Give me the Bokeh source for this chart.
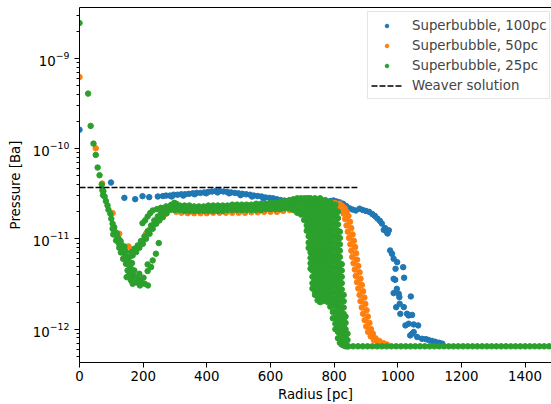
import numpy as np
from bokeh.plotting import figure
from bokeh.models import FixedTicker, LinearAxis, Legend, LegendItem
from bokeh.embed import file_html
from bokeh.resources import INLINE

BLUE = "#1f77b4"
ORANGE = "#ff7f0e"
GREEN = "#2ca02c"

# ---------------- data: radius [pc], log10 pressure [Ba] ----------------
x_ticks = [0, 200, 400, 600, 800, 1000, 1200, 1400]

# Superbubble, 100pc
blue_core_r = [0, 99]
blue_core_logp = [-9.79, -10.375]
blue_shell_r = [141, 175, 198, 219, 246, 262, 272,
                284, 296, 308, 320, 332, 344, 356, 368, 380, 392,
                404, 416, 428, 440, 452, 464, 476, 488, 500, 512,
                524, 536, 548, 560, 572, 584, 596, 608, 620, 632,
                644, 656, 668, 680, 692, 704, 716, 728, 740, 752,
                764, 776, 788,
                290, 326, 362, 398, 434, 470, 506, 542, 578, 614]
blue_shell_logp = [-10.545, -10.559, -10.526, -10.537, -10.53, -10.525, -10.52,
                   -10.52, -10.51, -10.51, -10.505, -10.505, -10.50, -10.495, -10.49, -10.49, -10.485,
                   -10.48, -10.475, -10.47, -10.47, -10.475, -10.48, -10.485, -10.49, -10.495, -10.50,
                   -10.505, -10.51, -10.52, -10.525, -10.53, -10.54, -10.545, -10.55, -10.56, -10.57,
                   -10.575, -10.58, -10.585, -10.59, -10.595, -10.60, -10.60, -10.60, -10.60, -10.595,
                   -10.59, -10.585, -10.58,
                   -10.53, -10.52, -10.505, -10.495, -10.485, -10.495, -10.515, -10.53, -10.55, -10.57]
blue_edge_r = [798, 808, 818, 828, 838, 848, 858, 868, 880, 890,
               900, 910, 920, 928, 936, 944, 950, 956, 960, 966,
               968, 972, 976, 982, 987, 998, 993, 1017, 1020, 987,
               992, 997, 987, 1003, 1005, 1041, 995, 1006, 1019, 1008,
               1029, 1034, 1045, 1024, 1034, 1050, 1064, 1039, 1045, 1050,
               1061, 1076, 1088, 1097, 1108, 1118, 1130, 1140]
blue_edge_logp = [-10.574, -10.585, -10.595, -10.61, -10.635, -10.66, -10.675, -10.685, -10.665, -10.68,
                  -10.69, -10.70, -10.725, -10.745, -10.775, -10.80, -10.83, -10.90, -10.88, -10.925,
                  -10.94, -10.905, -11.128, -11.165, -11.22, -11.257, -11.331, -11.313, -11.43, -11.442,
                  -11.453, -11.553, -11.60, -11.608, -11.645, -11.637, -11.756, -11.718, -11.755, -11.83,
                  -11.829, -11.848, -11.842, -11.958, -11.94, -11.947, -11.958, -12.069, -12.05, -12.032,
                  -12.087, -12.106, -12.11, -12.12, -12.13, -12.14, -12.15, -12.16]

# Superbubble, 50pc
orange_core_r = [0, 51, 71]
orange_core_logp = [-9.206, -9.996, -10.386]
orange_dip_r = [104, 125, 154, 165, 183, 209, 220, 246, 272, 304, 345]
orange_dip_logp = [-10.714, -10.943, -11.083, -11.164, -11.09, -10.943, -10.899, -10.788, -10.72, -10.70, -10.69]
orange_shell_r = [320, 340, 360, 380, 400, 420, 440, 460, 480, 500,
                  520, 540, 560, 580, 600, 620, 640, 660, 680, 700,
                  720, 740, 760, 780, 795]
orange_shell_logp = [-10.71, -10.715, -10.715, -10.715, -10.715, -10.71, -10.71, -10.71, -10.71, -10.71,
                     -10.71, -10.705, -10.705, -10.70, -10.70, -10.70, -10.69, -10.68, -10.66, -10.64,
                     -10.62, -10.61, -10.60, -10.60, -10.60]
orange_edge_r = [802, 810, 818, 824, 830, 835, 839, 843, 847, 851,
                 854, 857, 861, 865, 868, 872, 876, 880, 883, 887,
                 891, 896, 901, 907, 915, 925, 937, 952,
                 817, 825, 833, 839, 845, 850, 854, 858, 862, 866,
                 869, 872, 876, 880, 883, 887, 891, 895, 898, 902,
                 906, 911, 916, 922, 930, 942, 955, 966]
orange_edge_logp = [-10.60, -10.62, -10.645, -10.68, -10.72, -10.78, -10.85, -10.92, -10.99, -11.06,
                    -11.13, -11.20, -11.27, -11.34, -11.41, -11.48, -11.55, -11.62, -11.69, -11.76,
                    -11.83, -11.90, -11.97, -12.03, -12.08, -12.12, -12.15, -12.17,
                    -10.61, -10.635, -10.66, -10.70, -10.745, -10.81, -10.88, -10.95, -11.02, -11.09,
                    -11.16, -11.23, -11.30, -11.37, -11.44, -11.51, -11.58, -11.65, -11.72, -11.79,
                    -11.86, -11.93, -12.00, -12.05, -12.10, -12.13, -12.155, -12.17]

# Superbubble, 25pc
green_core_r = [0, 27, 35, 44, 51, 57, 63, 70, 72, 74, 75, 79, 83, 88, 91, 97, 100, 104]
green_core_logp = [-8.608, -9.39, -9.748, -9.944, -10.069, -10.209, -10.294, -10.397, -10.46, -10.515,
                   -10.471, -10.53, -10.581, -10.629, -10.677, -10.722, -10.777, -10.832]
green_dip_r = [104, 110, 106, 117, 123, 115, 123, 131, 125, 136,
               130, 142, 147, 137, 152, 146, 157, 151, 163, 157,
               148, 167, 173, 184, 162, 178, 194, 205, 215, 190,
               201, 214, 225, 214, 230, 240, 249,
               109, 117, 129, 141, 144, 157, 165, 172, 188, 167, 157]
green_dip_logp = [-10.888, -10.914, -10.95, -10.965, -10.998, -11.017, -11.046, -11.061, -11.098, -11.113,
                  -11.15, -11.164, -11.201, -11.22, -11.238, -11.275, -11.297, -11.349, -11.334, -11.386,
                  -11.423, -11.386, -11.423, -11.445, -11.46, -11.482, -11.482, -11.497, -11.515, -11.515,
                  -11.43, -11.356, -11.312, -11.282, -11.238, -11.164, -11.046,
                  -10.869, -10.936, -11.024, -11.083, -11.135, -11.201, -11.268, -11.349, -11.386, -11.497, -11.43]
green_arm_r = [162, 172, 183, 193, 204, 214, 225, 235, 246, 256, 267, 277, 288, 298,
               167, 178, 188, 199, 209, 220, 230, 241, 251, 262, 274, 288, 304,
               198, 206, 214, 222, 230, 243, 256, 272, 288, 304,
               165, 176, 186, 196, 207, 217, 228, 238, 249, 259, 271, 283, 296]
green_arm_logp = [-11.146, -11.109, -11.072, -11.024, -10.973, -10.914, -10.851, -10.795, -10.751, -10.714,
                  -10.677, -10.648, -10.622, -10.60,
                  -11.183, -11.146, -11.098, -11.054, -10.998, -10.943, -10.888, -10.832, -10.795, -10.759,
                  -10.714, -10.677, -10.648,
                  -10.825, -10.795, -10.751, -10.714, -10.685, -10.67, -10.655, -10.64, -10.63, -10.611,
                  -11.165, -11.128, -11.085, -11.04, -10.986, -10.93, -10.87, -10.813, -10.773, -10.737,
                  -10.696, -10.662, -10.635]
green_band_r = [300, 315, 330, 345, 360, 375, 390, 405, 420, 435,
                450, 465, 480, 495, 510, 525, 540, 555, 570, 585,
                600, 615, 630, 645, 660]
green_band_upper_logp = [-10.62, -10.63, -10.63, -10.63, -10.64, -10.64, -10.64, -10.63, -10.63, -10.63,
                         -10.63, -10.63, -10.62, -10.62, -10.62, -10.62, -10.62, -10.61, -10.61, -10.61,
                         -10.60, -10.60, -10.59, -10.58, -10.57]
green_band_middle_logp = [-10.65, -10.655, -10.66, -10.66, -10.665, -10.665, -10.665, -10.66, -10.66, -10.66,
                          -10.66, -10.655, -10.65, -10.65, -10.65, -10.65, -10.65, -10.645, -10.645, -10.64,
                          -10.635, -10.635, -10.63, -10.62, -10.615]
green_band_lower_logp = [-10.68, -10.68, -10.69, -10.69, -10.69, -10.69, -10.69, -10.69, -10.69, -10.69,
                         -10.69, -10.68, -10.68, -10.68, -10.68, -10.68, -10.68, -10.68, -10.68, -10.67,
                         -10.67, -10.67, -10.67, -10.66, -10.66]
green_wall_r = [672, 684, 696, 706, 714, 720, 726, 732, 740, 748, 756, 764, 772, 780,
                788, 796, 804, 812, 818, 824, 830, 836, 842]
green_wall_logp = [
    [-10.56, -10.62, -10.68],
    [-10.55, -10.61, -10.67, -10.71],
    [-10.55, -10.61, -10.67, -10.73],
    [-10.55, -10.61, -10.67, -10.73, -10.79],
    [-10.55, -10.61, -10.67, -10.73, -10.79, -10.85, -10.91],
    [-10.55, -10.62, -10.69, -10.76, -10.83, -10.90, -10.97, -11.04, -11.10],
    [-10.55, -10.61, -10.67, -10.73, -10.79, -10.85, -10.91, -10.97, -11.03, -11.09, -11.15, -11.21, -11.27, -11.33],
    [-10.58, -10.65, -10.72, -10.79, -10.86, -10.93, -11.00, -11.07, -11.14, -11.21, -11.28, -11.35, -11.42, -11.49, -11.55],
    [-10.55, -10.61, -10.68, -10.75, -10.82, -10.89, -10.96, -11.03, -11.10, -11.17, -11.24, -11.31, -11.38, -11.45, -11.52, -11.58, -11.62],
    [-10.58, -10.65, -10.72, -10.79, -10.86, -10.93, -11.00, -11.07, -11.14, -11.21, -11.28, -11.35, -11.42, -11.49, -11.56, -11.63, -11.68],
    [-10.55, -10.61, -10.68, -10.75, -10.82, -10.89, -10.96, -11.03, -11.10, -11.17, -11.24, -11.31, -11.38, -11.45, -11.52, -11.59, -11.66, -11.70],
    [-10.58, -10.65, -10.72, -10.79, -10.86, -10.93, -11.00, -11.07, -11.14, -11.21, -11.28, -11.35, -11.42, -11.49, -11.56, -11.63, -11.69],
    [-10.57, -10.63, -10.70, -10.77, -10.84, -10.91, -10.98, -11.05, -11.12, -11.19, -11.26, -11.33, -11.40, -11.47, -11.54, -11.60, -11.66],
    [-10.60, -10.67, -10.74, -10.81, -10.88, -10.95, -11.02, -11.09, -11.16, -11.23, -11.30, -11.37, -11.44, -11.51, -11.58, -11.65, -11.70],
    [-10.59, -10.65, -10.72, -10.79, -10.86, -10.93, -11.00, -11.07, -11.14, -11.21, -11.28, -11.35, -11.42, -11.49, -11.56, -11.63, -11.69, -11.75],
    [-10.62, -10.69, -10.76, -10.83, -10.90, -10.97, -11.04, -11.11, -11.18, -11.25, -11.32, -11.39, -11.46, -11.53, -11.60, -11.67, -11.74, -11.81, -11.88],
    [-10.62, -10.68, -10.75, -10.82, -10.89, -10.96, -11.03, -11.10, -11.17, -11.24, -11.31, -11.38, -11.45, -11.52, -11.59, -11.66, -11.73, -11.80, -11.87, -11.94, -12.00],
    [-10.70, -10.77, -10.84, -10.91, -10.98, -11.05, -11.12, -11.19, -11.26, -11.33, -11.40, -11.47, -11.54, -11.61, -11.68, -11.75, -11.82, -11.89, -11.96, -12.03, -12.10],
    [-10.92, -10.99, -11.06, -11.13, -11.20, -11.27, -11.34, -11.41, -11.48, -11.55, -11.62, -11.69, -11.76, -11.83, -11.90, -11.97, -12.04, -12.11, -12.15],
    [-11.28, -11.35, -11.42, -11.49, -11.56, -11.63, -11.70, -11.77, -11.84, -11.91, -11.98, -12.05, -12.12, -12.17],
    [-11.62, -11.69, -11.76, -11.83, -11.90, -11.97, -12.04, -12.11, -12.18],
    [-11.86, -11.93, -12.00, -12.07, -12.14, -12.19],
    [-12.05, -12.12, -12.19],
]
green_floor_r = [845, 860, 875, 890, 905, 920, 935, 950, 965, 980,
                 995, 1010, 1025, 1040, 1055, 1070, 1085, 1100, 1115, 1130,
                 1145, 1160, 1175, 1190, 1205, 1220, 1235, 1250, 1265, 1280,
                 1295, 1310, 1325, 1340, 1355, 1370, 1385, 1400, 1415, 1430,
                 1445, 1460, 1475, 1490]
green_floor_logp = [-12.19, -12.19, -12.19, -12.19, -12.19, -12.19, -12.19, -12.19, -12.19, -12.19,
                    -12.19, -12.19, -12.19, -12.19, -12.19, -12.19, -12.19, -12.19, -12.19, -12.19,
                    -12.19, -12.19, -12.19, -12.19, -12.19, -12.19, -12.19, -12.19, -12.19, -12.19,
                    -12.19, -12.19, -12.19, -12.19, -12.19, -12.19, -12.19, -12.19, -12.19, -12.19,
                    -12.19, -12.19, -12.19, -12.19]

# Weaver solution
weaver_r = [0, 873]
weaver_p = [3.72e-11, 3.72e-11]

# ---------------- assemble series ----------------
blue_r = blue_core_r + blue_shell_r + blue_edge_r
blue_p = list(10.0 ** np.array(blue_core_logp + blue_shell_logp + blue_edge_logp))
orange_r = orange_core_r + orange_dip_r + orange_shell_r + orange_edge_r
orange_p = list(10.0 ** np.array(orange_core_logp + orange_dip_logp + orange_shell_logp + orange_edge_logp))
wall_r, wall_lp = [], []
for r, col in zip(green_wall_r, green_wall_logp):
    wall_r += [r] * len(col)
    wall_lp += col
green_r = (green_core_r + green_dip_r + green_arm_r + green_band_r + green_band_r + green_band_r
           + wall_r + green_floor_r)
green_lp = (green_core_logp + green_dip_logp + green_arm_logp + green_band_upper_logp
            + green_band_middle_logp + green_band_lower_logp + wall_lp + green_floor_logp)
green_p = list(10.0 ** np.array(green_lp))

# ---------------- figure ----------------
p = figure(frame_width=472, frame_height=355,
           x_range=(0, 1483), y_range=(10 ** -12.369, 10 ** -8.436),
           y_axis_type="log", output_backend="svg", toolbar_location=None,
           min_border_left=79, min_border_right=0, min_border_top=7, min_border_bottom=42,
           background_fill_color="white", border_fill_color="white")
p.outline_line_color = None
p.grid.visible = False

MS = 5.5
rb = p.scatter(blue_r, blue_p, size=MS, fill_color=BLUE, line_color=BLUE)
ro = p.scatter(orange_r, orange_p, size=MS, fill_color=ORANGE, line_color=ORANGE)
rg = p.scatter(green_r, green_p, size=MS, fill_color=GREEN, line_color=GREEN)
rw = p.line(weaver_r, weaver_p, line_color="black", line_width=1.5, line_dash="6 2")

for ax in (p.xaxis[0], p.yaxis[0]):
    ax.axis_line_color = "black"
    ax.major_tick_line_color = "black"
    ax.minor_tick_line_color = "black"
    ax.major_tick_in = 0
    ax.major_tick_out = 5
    ax.minor_tick_in = 0
    ax.minor_tick_out = 3
    ax.major_label_text_font = "DejaVu Sans"
    ax.major_label_text_font_size = "10pt"
    ax.major_label_text_color = "black"
    ax.axis_label_text_font = "DejaVu Sans"
    ax.axis_label_text_font_size = "10pt"
    ax.axis_label_text_font_style = "normal"
    ax.axis_label_text_color = "black"

p.xaxis.ticker = FixedTicker(ticks=x_ticks)
p.xaxis.minor_tick_out = 0
p.xaxis.major_label_standoff = 3
p.xaxis.axis_label_standoff = 3
p.xaxis.axis_label = "Radius [pc]"
p.yaxis.major_label_standoff = 5
p.yaxis.axis_label_standoff = 7
p.yaxis.axis_label = "Pressure [Ba]"

top = LinearAxis(ticker=FixedTicker(ticks=[]), major_tick_out=0, minor_tick_out=0,
                 major_label_standoff=0, major_label_text_font_size="0px",
                 axis_line_color="black")
p.add_layout(top, "above")

legend = Legend(items=[
    LegendItem(label="Superbubble, 100pc", renderers=[rb]),
    LegendItem(label="Superbubble, 50pc", renderers=[ro]),
    LegendItem(label="Superbubble, 25pc", renderers=[rg]),
    LegendItem(label="Weaver solution", renderers=[rw]),
], location=(288, 263))
legend.label_text_font = "DejaVu Sans"
legend.label_text_font_size = "10pt"
legend.glyph_width = 31
legend.glyph_height = 9
legend.label_height = 20
legend.label_standoff = 10
legend.padding = 3
legend.spacing = 0
legend.margin = 0
legend.border_line_color = "#cccccc"
legend.border_line_width = 1
legend.background_fill_alpha = 0.8
p.add_layout(legend)

open("out.html", "w").write(file_html(p, INLINE))
